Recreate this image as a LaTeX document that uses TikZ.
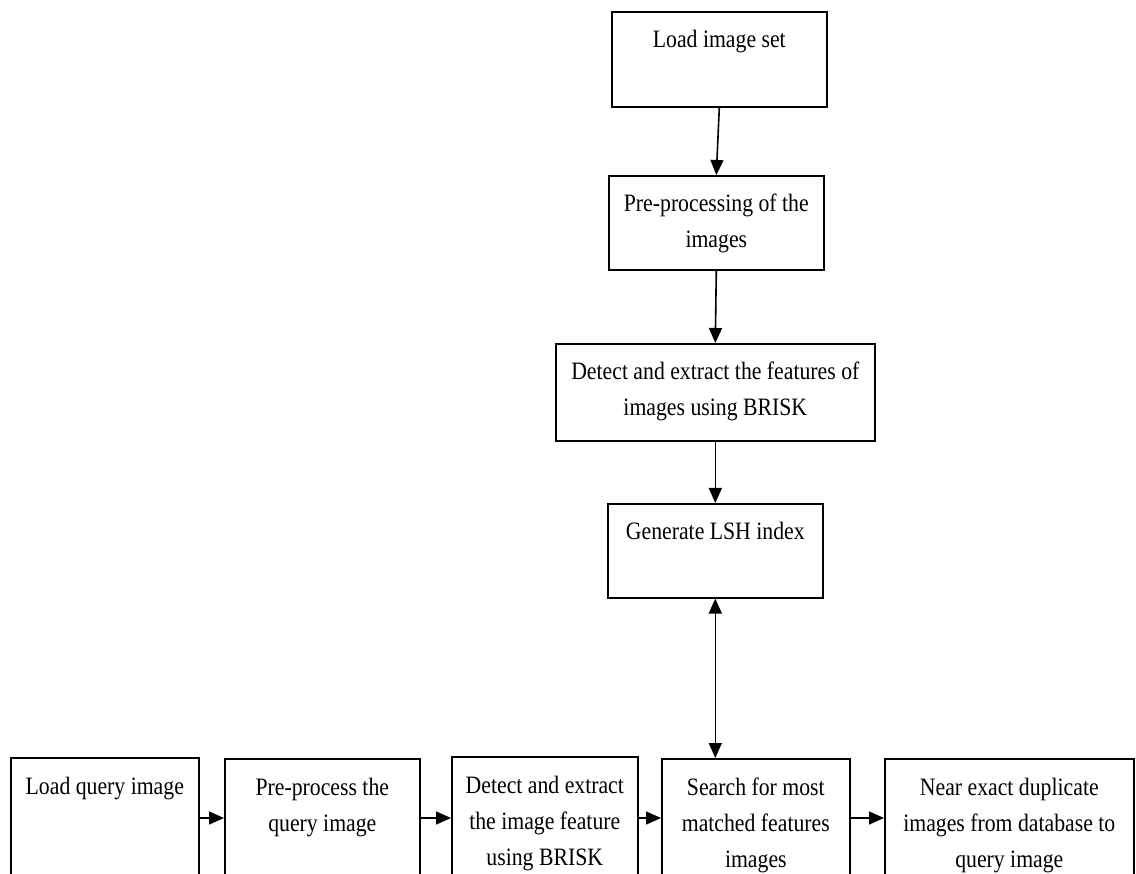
\documentclass[tikz,border=0pt]{standalone}
\usepackage{fontspec}
\setmainfont[FakeStretch=0.87]{Liberation Serif}
\usetikzlibrary{arrows.meta}

% A process box: name, left x, top y, width, height, text (set from the top)
\newcommand\stagebox[6]{%
  \node[stage, anchor=north west] (#1) at (#2,#3)
    {\parbox[c][#5pt][t]{#4pt}{\centering\vspace*{11pt}\strut#6\strut\par}};}

\tikzset{
  stage/.style={draw, line width=1.6pt, inner sep=0pt, fill=white},
  flow/.style={line width=1.6pt, -{Triangle[length=15pt,width=13pt]}},
  twoway/.style={line width=1.6pt, {Triangle[length=15pt,width=13pt]}-{Triangle[length=15pt,width=13pt]}},
}

\begin{document}
\begin{tikzpicture}[x=1pt, y=-1pt, font=\fontsize{25}{36}\selectfont]
  \path[use as bounding box, fill=white] (0,0) rectangle (1136,874);
  \clip (0,0) rectangle (1136,874);

  % indexing branch
  \stagebox{load}{611}{11}{215}{95}{Load image set}
  \stagebox{prep}{608}{175}{215}{94}{Pre-processing of the\\images}
  \stagebox{feat}{555}{343}{319}{97}{Detect and extract the features of\\images using BRISK}
  \stagebox{lsh}{607}{503}{215}{94}{Generate LSH index}

  % query branch
  \stagebox{query}{10}{757}{188}{150}{Load query image}
  \stagebox{qprep}{224}{758}{195}{150}{Pre-process the\\query image}
  \stagebox{qfeat}{451}{756}{186}{150}{Detect and extract\\the image feature\\using BRISK}
  \stagebox{search}{661}{758}{188}{150}{Search for most\\matched features\\images}
  \stagebox{result}{884}{758}{249}{150}{Near exact duplicate\\images from database to\\query image}

  \coordinate (row) at (0,818);

  \draw[flow] (load.south) -- (prep.north);
  \draw[flow] (prep.south) -- (feat.north);
  \draw[flow] (feat.south) -- (lsh.north);
  \draw[twoway] (lsh.south) -- (lsh.south |- search.north);

  \draw[flow] (query.east |- row) -- (qprep.west |- row);
  \draw[flow] (qprep.east |- row) -- (qfeat.west |- row);
  \draw[flow] (qfeat.east |- row) -- (search.west |- row);
  \draw[flow] (search.east |- row) -- (result.west |- row);
\end{tikzpicture}
\end{document}
